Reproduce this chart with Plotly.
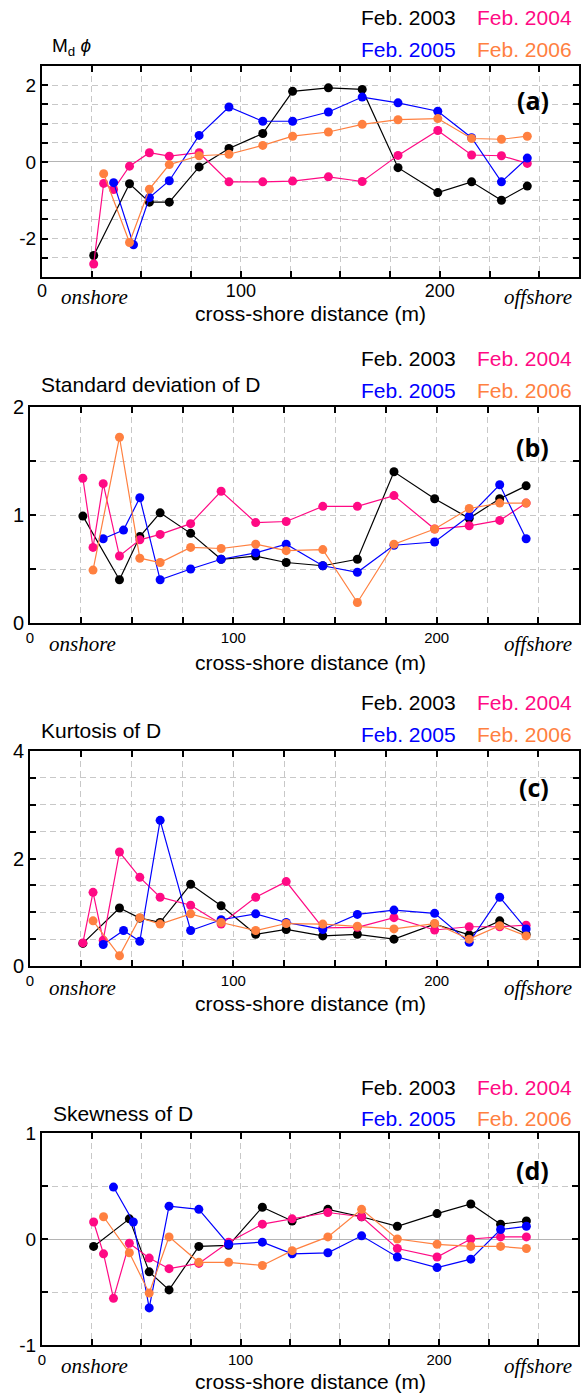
import plotly.graph_objects as go

# ---------------- data ----------------
series_names = ["Feb. 2003", "Feb. 2004", "Feb. 2005", "Feb. 2006"]
series_colors = ["#000000", "#FF0A84", "#0000FF", "#FF8040"]

x_2003 = [26, 44, 54, 64, 79, 94, 111, 126, 144, 161, 179, 199, 216, 231, 244]
x_2004 = [26, 31, 36, 44, 54, 64, 79, 94, 111, 126, 144, 161, 179, 199, 216, 231, 244]
x_2005 = [36, 46, 54, 64, 79, 94, 111, 126, 144, 161, 179, 199, 216, 231, 244]
x_2006 = [31, 44, 54, 64, 79, 94, 111, 126, 144, 161, 179, 199, 216, 231, 244]

# (a) Md phi
md_2003 = [-2.44, -0.57, -1.05, -1.05, -0.13, 0.35, 0.74, 1.84, 1.93, 1.89, -0.15, -0.80, -0.52, -1.00, -0.63]
md_2004 = [-2.66, -0.56, -0.72, -0.11, 0.24, 0.15, 0.24, -0.52, -0.52, -0.50, -0.39, -0.51, 0.17, 0.82, 0.18, 0.16, -0.04]
md_2005 = [-0.54, -2.16, -0.93, -0.49, 0.69, 1.43, 1.06, 1.06, 1.30, 1.69, 1.54, 1.32, 0.63, -0.52, 0.10]
md_2006 = [-0.31, -2.10, -0.71, -0.07, 0.16, 0.20, 0.43, 0.67, 0.78, 0.98, 1.10, 1.13, 0.61, 0.59, 0.67]

# (b) standard deviation
sd_2003 = [0.99, 0.40, 0.80, 1.02, 0.83, 0.59, 0.62, 0.56, 0.53, 0.59, 1.40, 1.15, 0.97, 1.15, 1.27]
sd_2004 = [1.34, 0.70, 1.29, 0.62, 0.77, 0.82, 0.92, 1.22, 0.93, 0.94, 1.08, 1.08, 1.18, 0.87, 0.90, 0.95, 1.11]
sd_2005 = [0.78, 0.86, 1.16, 0.40, 0.50, 0.59, 0.65, 0.73, 0.53, 0.47, 0.72, 0.75, 0.99, 1.28, 0.78]
sd_2006 = [0.49, 1.72, 0.60, 0.56, 0.70, 0.69, 0.73, 0.67, 0.68, 0.19, 0.73, 0.87, 1.06, 1.11, 1.11]

# (c) kurtosis
ku_2003 = [0.42, 1.08, 0.89, 0.81, 1.52, 1.12, 0.59, 0.68, 0.56, 0.59, 0.50, 0.78, 0.58, 0.84, 0.59]
ku_2004 = [0.43, 1.37, 0.48, 2.12, 1.65, 1.28, 1.13, 0.78, 1.28, 1.57, 0.71, 0.72, 0.90, 0.67, 0.73, 0.73, 0.76]
ku_2005 = [0.40, 0.66, 0.46, 2.71, 0.66, 0.86, 0.97, 0.81, 0.68, 0.96, 1.04, 0.98, 0.44, 1.28, 0.69]
ku_2006 = [0.84, 0.19, 0.90, 0.78, 0.97, 0.81, 0.66, 0.79, 0.78, 0.74, 0.69, 0.79, 0.50, 0.75, 0.56]

# (d) skewness
sk_2003 = [-0.07, 0.19, -0.31, -0.48, -0.07, -0.06, 0.30, 0.17, 0.28, 0.21, 0.12, 0.24, 0.33, 0.14, 0.17]
sk_2004 = [0.16, -0.14, -0.56, -0.04, -0.18, -0.28, -0.23, -0.03, 0.14, 0.19, 0.25, 0.21, -0.09, -0.17, 0.00, 0.02, 0.02]
sk_2005 = [0.49, 0.16, -0.65, 0.31, 0.28, -0.05, -0.03, -0.14, -0.13, 0.03, -0.17, -0.27, -0.19, 0.09, 0.12]
sk_2006 = [0.21, -0.13, -0.51, 0.02, -0.22, -0.22, -0.25, -0.11, 0.02, 0.28, 0.00, -0.05, -0.07, -0.07, -0.09]

x_tick_vals = [0, 100, 200]
panel_titles = ["M<sub>d</sub> <i>ϕ</i>", "Standard deviation of D", "Kurtosis of D", "Skewness of D"]
panel_labels = ["(a)", "(b)", "(c)", "(d)"]
x_title = "cross-shore distance (m)"

# ---------------- layout geometry (pixels) ----------------
W, H = 583, 1393
panels = [
    dict(x0=42, x1=579, y0=66, y1=277, yr=[-3, 2.5], ylab=[-2, 0, 2],
         data=[md_2003, md_2004, md_2005, md_2006], xtick_size=18, ytick_size=19, xstand=-4,
         title_y=47, title_x=50, leg_y=(18, 49), lab_y=100, xt_y=313, on_y=297, on_x=59),
    dict(x0=30, x1=579, y0=407, y1=623, yr=[0, 2], ylab=[0, 1, 2],
         data=[sd_2003, sd_2004, sd_2005, sd_2006], xtick_size=15, ytick_size=20, xstand=0,
         title_y=385, title_x=39, leg_y=(358, 390), lab_y=447, xt_y=662, on_y=644, on_x=47),
    dict(x0=30, x1=579, y0=751, y1=966, yr=[0, 4], ylab=[0, 2, 4],
         data=[ku_2003, ku_2004, ku_2005, ku_2006], xtick_size=15, ytick_size=20, xstand=0,
         title_y=730, title_x=39, leg_y=(703, 734), lab_y=787, xt_y=1003, on_y=988, on_x=47),
    dict(x0=42, x1=578, y0=1133, y1=1345, yr=[-1, 1], ylab=[-1, 0, 1],
         data=[sk_2003, sk_2004, sk_2005, sk_2006], xtick_size=15, ytick_size=19, xstand=0,
         title_y=1113, title_x=51, leg_y=(1087, 1118), lab_y=1170, xt_y=1381, on_y=1366, on_x=59),
]

xs = [x_2003, x_2004, x_2005, x_2006]

fig = go.Figure()
annotations = []
layout = {}

SANS = "Liberation Sans, Arial, sans-serif"
SERIF = "Liberation Serif, Times New Roman, serif"

def px(x):
    return x / W

def py(y):
    return 1 - y / H

for i, p in enumerate(panels):
    k = "" if i == 0 else str(i + 1)
    xa, ya = "x" + k, "y" + k
    for s in range(4):
        fig.add_trace(go.Scatter(
            x=xs[s], y=p["data"][s], mode="lines+markers",
            line=dict(color=series_colors[s], width=1.2),
            marker=dict(color=series_colors[s], size=9),
            xaxis=xa, yaxis=ya, showlegend=False, cliponaxis=False))
    lo, hi = p["yr"]
    n = int(round((hi - lo) / 0.5))
    yvals = [lo + 0.5 * j for j in range(n + 1)]
    ytext = [("%g" % v) if any(abs(v - l) < 1e-9 for l in p["ylab"]) else " " for v in yvals]
    xvals = [25 * j for j in range(11)]
    xtext = [("%d" % v) if v in x_tick_vals else " " for v in xvals]
    common = dict(showline=True, linecolor="black", linewidth=2, mirror="ticks",
                  ticks="inside", ticklen=6, tickwidth=1.5, tickcolor="black",
                  showgrid=True, gridcolor="#C8C8C8", gridwidth=1, griddash="6px,4px",
                  automargin=False)
    layout["xaxis" + k] = dict(common, domain=[px(p["x0"]), px(p["x1"])], range=[0, 270],
                               tickmode="array", tickvals=xvals, ticktext=xtext,
                               tickfont=dict(family=SANS, size=p["xtick_size"], color="black"),
                               ticklabelstandoff=p["xstand"],
                               zeroline=False, anchor=ya)
    layout["yaxis" + k] = dict(common, domain=[py(p["y1"]), py(p["y0"])], range=p["yr"],
                               tickmode="array", tickvals=yvals, ticktext=ytext,
                               tickfont=dict(family=SANS, size=p["ytick_size"], color="black"),
                               zeroline=True, zerolinecolor="#B4B4B4", zerolinewidth=1,
                               anchor=xa)
    annotations.append(dict(text=panel_titles[i], x=px(p["title_x"]), y=py(p["title_y"]),
                            xref="paper", yref="paper", xanchor="left", yanchor="middle",
                            showarrow=False, font=dict(family=SANS, size=21 if i else 19, color="black")))
    for s in range(4):
        row = 0 if s < 2 else 1
        xr = 458 if s % 2 == 0 else 574
        annotations.append(dict(text=series_names[s], x=px(xr), y=py(p["leg_y"][row]),
                                xref="paper", yref="paper", xanchor="right", yanchor="middle",
                                showarrow=False,
                                font=dict(family=SANS, size=21, color=series_colors[s])))
    annotations.append(dict(text="<b>" + panel_labels[i] + "</b>", x=px(551), y=py(p["lab_y"]),
                            xref="paper", yref="paper", xanchor="right", yanchor="middle",
                            showarrow=False, font=dict(family="Open Sans, DejaVu Sans, sans-serif",
                                                       size=25, color="black")))
    annotations.append(dict(text=x_title, x=px(310), y=py(p["xt_y"]),
                            xref="paper", yref="paper", xanchor="center", yanchor="middle",
                            showarrow=False, font=dict(family=SANS, size=21, color="black")))
    annotations.append(dict(text="<i>onshore</i>", x=px(p["on_x"]), y=py(p["on_y"]),
                            xref="paper", yref="paper", xanchor="left", yanchor="middle",
                            showarrow=False, font=dict(family=SERIF, size=21, color="black")))
    annotations.append(dict(text="<i>offshore</i>", x=px(574), y=py(p["on_y"]),
                            xref="paper", yref="paper", xanchor="right", yanchor="middle",
                            showarrow=False, font=dict(family=SERIF, size=21, color="black")))

fig.update_layout(width=W, height=H,
                  margin=dict(l=0, r=0, t=0, b=0, pad=0, autoexpand=False),
                  paper_bgcolor="white", plot_bgcolor="white",
                  annotations=annotations, **layout)

fig.write_html("out.html")
